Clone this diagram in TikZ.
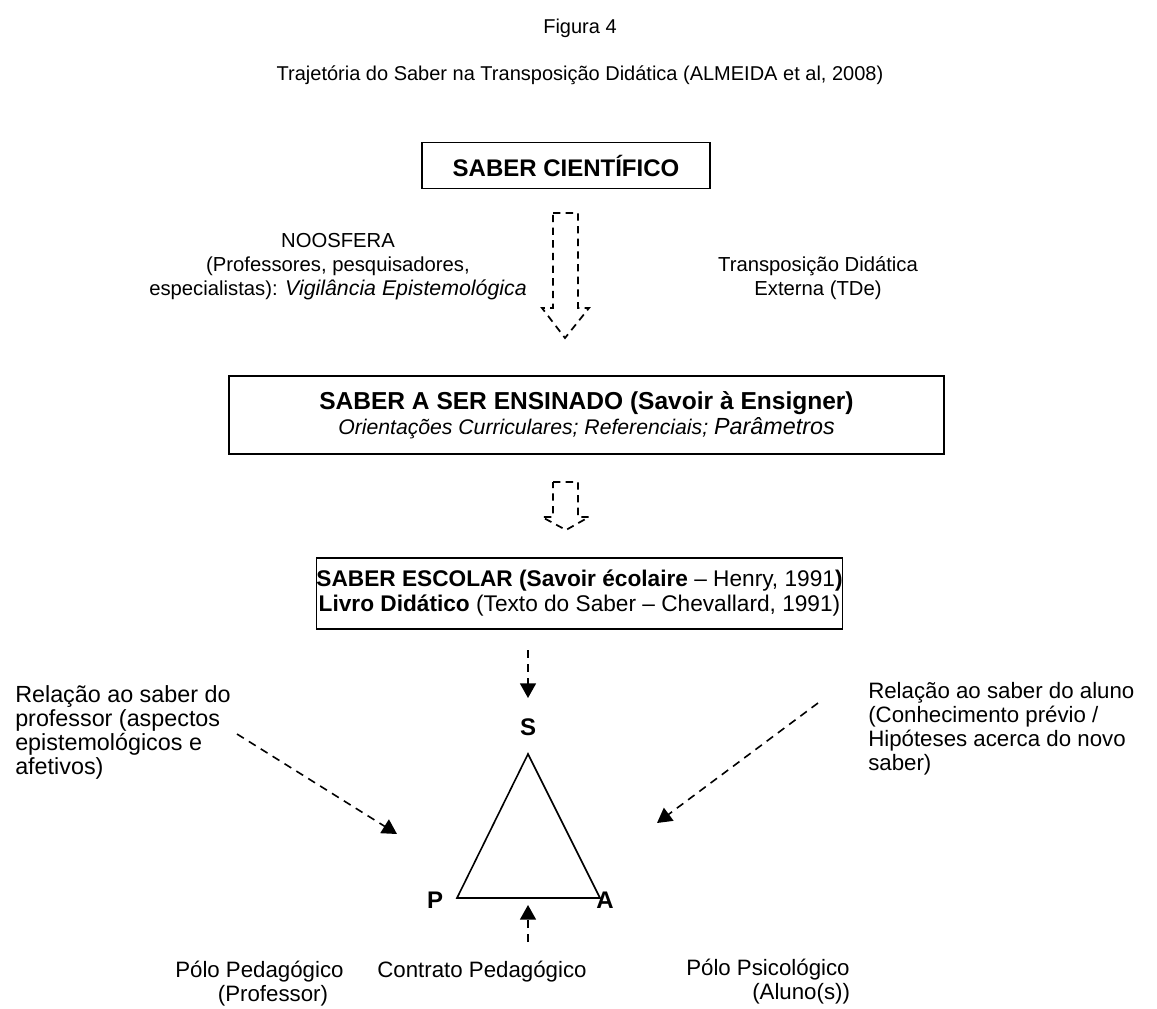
\documentclass[tikz,border=0pt]{standalone}
\usepackage{fontspec}
\setmainfont{Liberation Sans}
\usetikzlibrary{arrows.meta,positioning}
\tikzset{
  >={Triangle[length=11pt,width=12pt]},
  every picture/.style={line join=miter},
  ttl/.style={font=\fontsize{15}{18}\selectfont, inner sep=0pt},
  note/.style={font=\fontsize{16.7}{18}\selectfont, inner sep=0pt},
  smallnote/.style={font=\fontsize{15.2}{18}\selectfont, inner sep=0pt},
  vtx/.style={font=\fontsize{18}{18}\selectfont\bfseries, inner sep=0pt},
}

\begin{document}
\begin{tikzpicture}[x=0.75pt, y=-0.75pt,
  saberbox/.style={draw, line width=1.1pt, align=center, inner sep=0pt,
    font=\fontsize{17}{18.75}\selectfont},
  hollow/.style={line width=1.3pt, dash pattern=on 5.5pt off 4pt},
  rel/.style={->, line width=1.2pt, dash pattern=on 6pt off 4.5pt},
]
\useasboundingbox (0,0) rectangle (1157,1008);

% ------------------------------------------------------------- titles
\node[ttl] (fig) at (580,28) {Figura 4};
\node[ttl] (title) at (580,75)
  {Trajetória do Saber na Transposição Didática (ALMEIDA et al, 2008)};

% ------------------------------------------------------------- boxes
\node[saberbox, minimum width=216pt, minimum height=34.5pt] (cient)
  at (566,165.5) {\fontsize{18}{18.75}\selectfont\bfseries SABER CIENTÍFICO};
\node[saberbox, minimum width=536.25pt, minimum height=58.5pt] (ensinado)
  at (586.5,415) {{\fontsize{18.4}{18.75}\selectfont\bfseries SABER A SER ENSINADO (Savoir à Ensigner)}\\
  {\fontsize{15.9}{18.75}\selectfont\itshape Orientações Curriculares; Referenciais;
  {\fontsize{17.5}{18.75}\selectfont Parâmetros}}};
\node[saberbox, minimum width=387.75pt, minimum height=53.25pt] (escolar)
  at (579.5,593.5) {\textbf{SABER ESCOLAR (Savoir écolaire} – Henry, 1991\textbf{)}\\
  \textbf{Livro Didático} (Texto do Saber – Chevallard, 1991)};

% hollow arrows between the boxes
\draw[hollow] (553,213) -- (578,213) -- (578,308) -- (589,308) -- (565,338)
  -- (542,308) -- (553,308) -- cycle;
\draw[hollow] (553,482) -- (578,482) -- (578,517) -- (589,517) -- (566,530)
  -- (542,517) -- (553,517) -- cycle;

\node[smallnote, align=center] (noosfera) at (338,267)
  {NOOSFERA\\(Professores, pesquisadores,\\especialistas):
   {\fontsize{16}{18}\selectfont\itshape Vigilância Epistemológica}};
\node[smallnote, align=center] (tde)
  at (818,278.5) {Transposição Didática\\Externa (TDe)};

% ------------------------------------------------------------- triangle
\coordinate (apexS) at (528,754);
\coordinate (apexP) at (457,898);
\coordinate (apexA) at (600,898);
\draw[line width=1.2pt] (apexS) -- (apexA) -- (apexP) -- cycle;
\node[vtx] (S) at (528,727) {S};
\node[vtx] (P) at (435,900) {P};
\node[vtx] (A) at (605,900) {A};

\node[note, align=left, anchor=west, font=\fontsize{17.5}{18}\selectfont] (relprof)
  at (15,732.5) {Relação ao saber do\\professor (aspectos\\epistemológicos e\\afetivos)};
\node[note, align=left, anchor=west] (relaluno) at (868,728.5)
  {Relação ao saber do aluno\\(Conhecimento prévio /\\Hipóteses acerca do novo\\saber)};

\node[note, align=left, anchor=west] (polped) at (175,984)
  {Pólo Pedagógico\\\hspace*{32pt}(Professor)};
\node[note] (contrato) at (482,972) {Contrato Pedagógico};
\node[note, align=left, anchor=west] (polpsi) at (686,982)
  {Pólo Psicológico\\\hspace*{49.5pt}(Aluno(s))};

% dashed relations
\coordinate (sTail) at (528,650);
\coordinate (sTip) at (528,698);
\coordinate (cTail) at (528,942);
\coordinate (cTip) at (528,905);
\coordinate (profTail) at (237,734);
\coordinate (profTip) at (397,834);
\coordinate (alunoTail) at (818,703);
\coordinate (alunoTip) at (657,823);
\draw[rel] (sTail) -- (sTip);
\draw[rel] (cTail) -- (cTip);
\draw[rel] (profTail) -- (profTip);
\draw[rel] (alunoTail) -- (alunoTip);
\end{tikzpicture}
\end{document}
